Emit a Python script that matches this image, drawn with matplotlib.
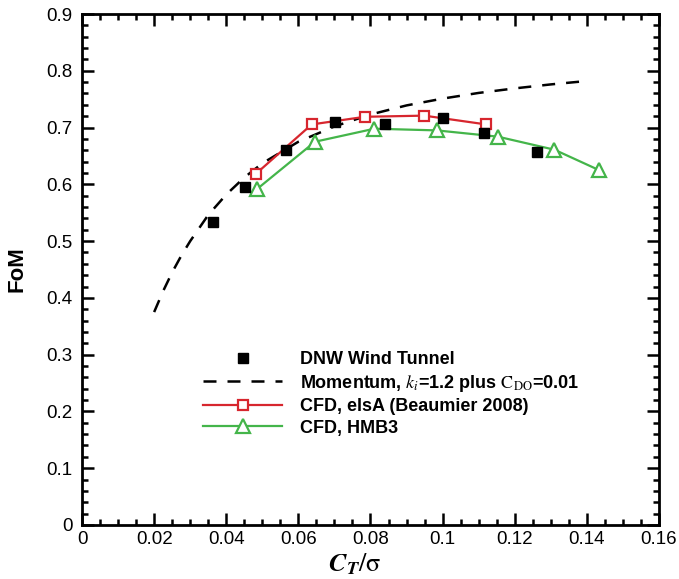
import numpy as np
import matplotlib
matplotlib.use('Agg')
import matplotlib.pyplot as plt
from matplotlib.ticker import MultipleLocator

plt.rcParams['font.family'] = ['Liberation Sans', 'DejaVu Sans']
plt.rcParams['mathtext.fontset'] = 'stix'

# ensayo en tunel de viento DNW
ct_dnw = [0.0363, 0.0452, 0.0565, 0.0702, 0.0839, 0.1001, 0.1116, 0.1261]
fom_dnw = [0.534, 0.596, 0.660, 0.710, 0.706, 0.717, 0.690, 0.657]

# teoria de momento (ki=1.2, Cd0=0.01)
ct_mom = [0.02, 0.0225, 0.025, 0.0275, 0.03, 0.035, 0.04, 0.045, 0.05, 0.06,
          0.07, 0.08, 0.09, 0.10, 0.11, 0.12, 0.13, 0.14]
fom_mom = [0.375, 0.412, 0.445, 0.474, 0.500, 0.546, 0.582, 0.612, 0.637, 0.675,
           0.702, 0.723, 0.739, 0.751, 0.761, 0.769, 0.776, 0.782]

# CFD elsA
ct_elsa = [0.0483, 0.0637, 0.0785, 0.0949, 0.1121]
fom_elsa = [0.619, 0.7055, 0.719, 0.721, 0.7055]

# CFD HMB3
ct_hmb = [0.0485, 0.0646, 0.0811, 0.0984, 0.1153, 0.131, 0.1434]
fom_hmb = [0.5915, 0.675, 0.698, 0.695, 0.684, 0.661, 0.625]

rojo = '#d7262e'
verde = '#44b54a'

fig = plt.figure(figsize=(6.79, 5.79), dpi=100)
ax = fig.add_axes([0.1208, 0.0933, 0.8497, 0.8825])

ax.plot(ct_mom, fom_mom, color='black', lw=1.8, linestyle=(0, (5.2, 4.4)),
        label=r'Momentum, $k_i$=1.2 plus $\mathrm{C_{DO}}$=0.01', zorder=2)
ax.plot(ct_elsa, fom_elsa, color=rojo, lw=1.6, marker='s', ms=7.5,
        mfc='white', mec=rojo, mew=1.6, label='CFD, elsA (Beaumier 2008)', zorder=3)
ax.plot(ct_hmb, fom_hmb, color=verde, lw=1.6, marker='^', ms=10,
        mfc='white', mec=verde, mew=1.6, label='CFD, HMB3', zorder=3)
ax.plot(ct_dnw, fom_dnw, linestyle='none', marker='s', ms=7.2,
        color='black', label='DNW Wind Tunnel', zorder=4)

ax.set_xlim(0, 0.16)
ax.set_ylim(0, 0.9)
ax.set_xticks(np.arange(0, 0.161, 0.02))
ax.set_xticklabels(['0', '0.02', '0.04', '0.06', '0.08', '0.1', '0.12', '0.14', '0.16'])
ax.set_yticks(np.arange(0, 0.91, 0.1))
ax.set_yticklabels(['0', '0.1', '0.2', '0.3', '0.4', '0.5', '0.6', '0.7', '0.8', '0.9'])
ax.xaxis.set_minor_locator(MultipleLocator(0.005))
ax.yaxis.set_minor_locator(MultipleLocator(0.02))

ax.tick_params(which='both', direction='in', top=True, right=True, labelsize=13.5, width=1.8)
ax.tick_params(which='major', length=8.5)
ax.tick_params(which='minor', length=4.3)
ax.tick_params(axis='x', pad=4)
ax.tick_params(axis='y', pad=7)
for s in ax.spines.values():
    s.set_linewidth(2)

ax.set_xlabel(r'$\mathbfit{C}_{\mathbfit{T}}/\mathrm{\sigma}$', fontsize=19)
ax.xaxis.set_label_coords(0.473, -0.051)
ax.set_ylabel('FoM', fontsize=16, fontweight='bold')
ax.yaxis.set_label_coords(-0.095, 0.5)

h, l = ax.get_legend_handles_labels()
orden = [3, 0, 1, 2]
ax.legend([h[i] for i in orden], [l[i] for i in orden], loc='upper left',
          bbox_to_anchor=(0.2097, 0.34), frameon=False, numpoints=1,
          handlelength=4.4, handletextpad=0.95, labelspacing=0.25,
          borderpad=0, borderaxespad=0,
          prop={'size': 13, 'weight': 'bold'})

plt.savefig('out.png', dpi=100)
